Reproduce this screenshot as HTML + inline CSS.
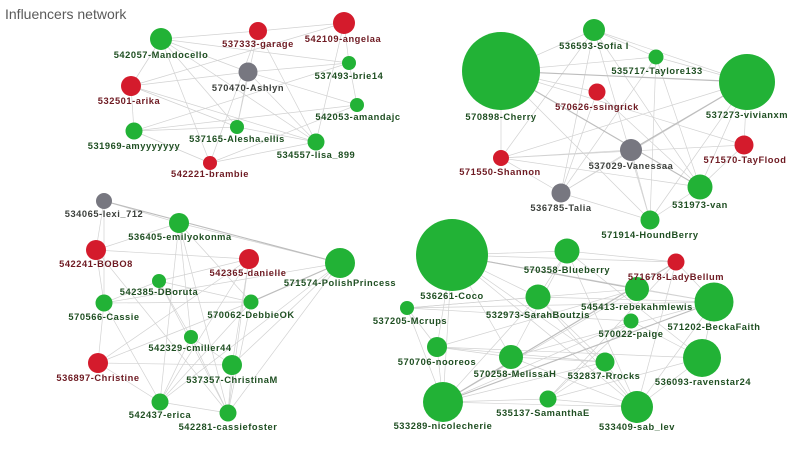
<!DOCTYPE html>
<html><head><meta charset="utf-8"><style>
html,body{margin:0;padding:0;background:#fff;}
svg{display:block;}
.e line{stroke:#d2d2d2;stroke-width:0.7;}
.t line{stroke:#bdbdbd;stroke-width:1.15;}
text.l{font-family:"Liberation Sans",sans-serif;font-size:9.3px;font-weight:bold;letter-spacing:0.55px;text-anchor:middle;dominant-baseline:central;}
.g{fill:#1f4f22;} .r{fill:#6e1a22;} .k{fill:#3c403c;}
.cg{fill:#22b236;} .cr{fill:#d41b2c;} .ck{fill:#777780;}
</style></head><body>
<svg width="800" height="464" viewBox="0 0 800 464" xmlns="http://www.w3.org/2000/svg">
<text x="5" y="19" style="font-family:'Liberation Sans',sans-serif;font-size:14px;fill:#5a5a5a;">Influencers network</text>

<!-- cluster 1 edges -->
<g class="e">
<line x1="161" y1="39" x2="258" y2="31"/><line x1="258" y1="31" x2="344" y2="23"/>
<line x1="161" y1="39" x2="248" y2="72"/><line x1="161" y1="39" x2="349" y2="63"/>
<line x1="161" y1="39" x2="210" y2="163"/><line x1="161" y1="39" x2="237" y2="127"/>
<line x1="161" y1="39" x2="316" y2="142"/><line x1="161" y1="39" x2="131" y2="86"/>
<line x1="131" y1="86" x2="248" y2="72"/><line x1="131" y1="86" x2="134" y2="131"/>
<line x1="131" y1="86" x2="316" y2="142"/><line x1="131" y1="86" x2="237" y2="127"/>
<line x1="131" y1="86" x2="344" y2="23"/><line x1="344" y1="23" x2="349" y2="63"/>
<line x1="349" y1="63" x2="357" y2="105"/><line x1="344" y1="23" x2="316" y2="142"/>
<line x1="248" y1="72" x2="237" y2="127"/><line x1="248" y1="72" x2="316" y2="142"/>
<line x1="248" y1="72" x2="357" y2="105"/><line x1="258" y1="31" x2="237" y2="127"/>
<line x1="258" y1="31" x2="210" y2="163"/><line x1="134" y1="131" x2="357" y2="105"/>
<line x1="134" y1="131" x2="210" y2="163"/><line x1="134" y1="131" x2="237" y2="127"/>
<line x1="210" y1="163" x2="357" y2="105"/><line x1="210" y1="163" x2="316" y2="142"/>
<line x1="237" y1="127" x2="316" y2="142"/><line x1="349" y1="63" x2="134" y2="131"/>
<line x1="248" y1="72" x2="349" y2="63"/><line x1="258" y1="31" x2="316" y2="142"/>
</g>

<!-- cluster 2 edges -->
<g class="e">
<line x1="501" y1="71" x2="594" y2="30"/><line x1="501" y1="71" x2="656" y2="57"/>
<line x1="594" y1="30" x2="656" y2="57"/><line x1="594" y1="30" x2="747" y2="82"/>
<line x1="656" y1="57" x2="747" y2="82"/><line x1="501" y1="71" x2="501" y2="158"/>
<line x1="501" y1="71" x2="597" y2="92"/><line x1="561" y1="193" x2="631" y2="150"/>
<line x1="561" y1="193" x2="501" y2="158"/><line x1="561" y1="193" x2="650" y2="220"/>
<line x1="650" y1="220" x2="700" y2="187"/><line x1="700" y1="187" x2="744" y2="145"/>
<line x1="744" y1="145" x2="747" y2="82"/><line x1="501" y1="158" x2="631" y2="150"/>
<line x1="501" y1="158" x2="700" y2="187"/><line x1="594" y1="30" x2="561" y2="193"/>
<line x1="594" y1="30" x2="650" y2="220"/><line x1="656" y1="57" x2="561" y2="193"/>
<line x1="747" y1="82" x2="501" y2="158"/><line x1="747" y1="82" x2="561" y2="193"/>
<line x1="597" y1="92" x2="700" y2="187"/><line x1="501" y1="71" x2="744" y2="145"/>
<line x1="594" y1="30" x2="700" y2="187"/><line x1="656" y1="57" x2="650" y2="220"/>
<line x1="597" y1="92" x2="561" y2="193"/><line x1="501" y1="158" x2="744" y2="145"/>
<line x1="650" y1="220" x2="747" y2="82"/><line x1="631" y1="150" x2="650" y2="220"/>
<line x1="501" y1="71" x2="650" y2="220"/><line x1="656" y1="57" x2="700" y2="187"/>
<line x1="594" y1="30" x2="501" y2="158"/><line x1="747" y1="82" x2="700" y2="187"/>
</g>
<g class="t">
<line x1="501" y1="71" x2="747" y2="82"/><line x1="501" y1="71" x2="700" y2="187"/>
<line x1="631" y1="150" x2="747" y2="82"/>
</g>

<!-- cluster 3 edges -->
<g class="e">
<line x1="104" y1="201" x2="96" y2="250"/><line x1="104" y1="201" x2="104" y2="303"/>
<line x1="179" y1="223" x2="340" y2="263"/><line x1="179" y1="223" x2="96" y2="250"/>
<line x1="179" y1="223" x2="191" y2="337"/><line x1="179" y1="223" x2="160" y2="402"/>
<line x1="179" y1="223" x2="228" y2="413"/><line x1="96" y1="250" x2="249" y2="259"/>
<line x1="96" y1="250" x2="104" y2="303"/><line x1="96" y1="250" x2="228" y2="413"/>
<line x1="249" y1="259" x2="159" y2="281"/><line x1="249" y1="259" x2="98" y2="363"/>
<line x1="249" y1="259" x2="160" y2="402"/><line x1="249" y1="259" x2="232" y2="365"/>
<line x1="340" y1="263" x2="104" y2="303"/><line x1="340" y1="263" x2="232" y2="365"/>
<line x1="340" y1="263" x2="228" y2="413"/><line x1="159" y1="281" x2="251" y2="302"/>
<line x1="159" y1="281" x2="104" y2="303"/><line x1="159" y1="281" x2="191" y2="337"/>
<line x1="159" y1="281" x2="228" y2="413"/><line x1="104" y1="303" x2="98" y2="363"/>
<line x1="104" y1="303" x2="251" y2="302"/><line x1="104" y1="303" x2="160" y2="402"/>
<line x1="251" y1="302" x2="98" y2="363"/><line x1="251" y1="302" x2="228" y2="413"/>
<line x1="251" y1="302" x2="160" y2="402"/><line x1="191" y1="337" x2="160" y2="402"/>
<line x1="191" y1="337" x2="232" y2="365"/><line x1="98" y1="363" x2="232" y2="365"/>
<line x1="98" y1="363" x2="160" y2="402"/><line x1="232" y1="365" x2="228" y2="413"/>
<line x1="160" y1="402" x2="228" y2="413"/><line x1="191" y1="337" x2="228" y2="413"/>
<line x1="179" y1="223" x2="251" y2="302"/><line x1="104" y1="201" x2="179" y2="223"/>
<line x1="340" y1="263" x2="160" y2="402"/><line x1="249" y1="259" x2="228" y2="413"/>
</g>
<g class="t">
<line x1="104" y1="201" x2="340" y2="263"/><line x1="340" y1="263" x2="251" y2="302"/>
</g>

<!-- cluster 4 edges -->
<g class="e">
<line x1="452" y1="255" x2="567" y2="251"/><line x1="452" y1="255" x2="676" y2="262"/>
<line x1="452" y1="255" x2="714" y2="302"/><line x1="452" y1="255" x2="443" y2="402"/>
<line x1="452" y1="255" x2="511" y2="357"/><line x1="452" y1="255" x2="437" y2="347"/>
<line x1="452" y1="255" x2="538" y2="297"/><line x1="452" y1="255" x2="605" y2="362"/>
<line x1="452" y1="255" x2="637" y2="407"/><line x1="567" y1="251" x2="676" y2="262"/>
<line x1="567" y1="251" x2="538" y2="297"/><line x1="567" y1="251" x2="637" y2="407"/>
<line x1="407" y1="308" x2="637" y2="289"/><line x1="407" y1="308" x2="714" y2="302"/>
<line x1="407" y1="308" x2="437" y2="347"/><line x1="407" y1="308" x2="538" y2="297"/>
<line x1="407" y1="308" x2="631" y2="321"/><line x1="538" y1="297" x2="605" y2="362"/>
<line x1="538" y1="297" x2="714" y2="302"/><line x1="538" y1="297" x2="443" y2="402"/>
<line x1="637" y1="289" x2="714" y2="302"/><line x1="637" y1="289" x2="443" y2="402"/>
<line x1="676" y1="262" x2="714" y2="302"/><line x1="714" y1="302" x2="511" y2="357"/>
<line x1="714" y1="302" x2="637" y2="407"/><line x1="714" y1="302" x2="702" y2="358"/>
<line x1="631" y1="321" x2="443" y2="402"/><line x1="631" y1="321" x2="702" y2="358"/>
<line x1="437" y1="347" x2="511" y2="357"/><line x1="437" y1="347" x2="605" y2="362"/>
<line x1="437" y1="347" x2="443" y2="402"/><line x1="437" y1="347" x2="702" y2="358"/>
<line x1="511" y1="357" x2="637" y2="407"/><line x1="511" y1="357" x2="605" y2="362"/>
<line x1="605" y1="362" x2="443" y2="402"/><line x1="605" y1="362" x2="548" y2="399"/>
<line x1="605" y1="362" x2="637" y2="407"/><line x1="702" y1="358" x2="637" y2="407"/>
<line x1="702" y1="358" x2="548" y2="399"/><line x1="443" y1="402" x2="548" y2="399"/>
<line x1="443" y1="402" x2="637" y2="407"/><line x1="548" y1="399" x2="637" y2="407"/>
<line x1="548" y1="399" x2="631" y2="321"/><line x1="538" y1="297" x2="637" y2="407"/>
<line x1="676" y1="262" x2="548" y2="399"/><line x1="567" y1="251" x2="511" y2="357"/>
<line x1="407" y1="308" x2="443" y2="402"/><line x1="676" y1="262" x2="637" y2="407"/>
<line x1="637" y1="289" x2="437" y2="347"/><line x1="567" y1="251" x2="702" y2="358"/>
</g>
<g class="t">
<line x1="452" y1="255" x2="637" y2="289"/><line x1="676" y1="262" x2="443" y2="402"/>
<line x1="714" y1="302" x2="443" y2="402"/>
</g>

<!-- nodes cluster 1 -->
<circle class="cg" cx="161" cy="39" r="11"/>
<circle class="cr" cx="258" cy="31" r="9"/>
<circle class="cr" cx="344" cy="23" r="11"/>
<circle class="cg" cx="349" cy="63" r="7"/>
<circle class="ck" cx="248" cy="72" r="9.5"/>
<circle class="cr" cx="131" cy="86" r="10"/>
<circle class="cg" cx="357" cy="105" r="7"/>
<circle class="cg" cx="134" cy="131" r="8.5"/>
<circle class="cg" cx="237" cy="127" r="7"/>
<circle class="cg" cx="316" cy="142" r="8.5"/>
<circle class="cr" cx="210" cy="163" r="7"/>
<!-- nodes cluster 2 -->
<circle class="cg" cx="594" cy="30" r="11"/>
<circle class="cg" cx="501" cy="71" r="39"/>
<circle class="cg" cx="656" cy="57" r="7.5"/>
<circle class="cg" cx="747" cy="82" r="28"/>
<circle class="cr" cx="597" cy="92" r="8.5"/>
<circle class="ck" cx="631" cy="150" r="11"/>
<circle class="cr" cx="501" cy="158" r="8"/>
<circle class="cr" cx="744" cy="145" r="9.5"/>
<circle class="ck" cx="561" cy="193" r="9.5"/>
<circle class="cg" cx="700" cy="187" r="12.5"/>
<circle class="cg" cx="650" cy="220" r="9.5"/>
<!-- nodes cluster 3 -->
<circle class="ck" cx="104" cy="201" r="8"/>
<circle class="cg" cx="179" cy="223" r="10"/>
<circle class="cr" cx="96" cy="250" r="10"/>
<circle class="cr" cx="249" cy="259" r="10"/>
<circle class="cg" cx="340" cy="263" r="15"/>
<circle class="cg" cx="159" cy="281" r="7"/>
<circle class="cg" cx="104" cy="303" r="8.5"/>
<circle class="cg" cx="251" cy="302" r="7.5"/>
<circle class="cg" cx="191" cy="337" r="7"/>
<circle class="cr" cx="98" cy="363" r="10"/>
<circle class="cg" cx="232" cy="365" r="10"/>
<circle class="cg" cx="160" cy="402" r="8.5"/>
<circle class="cg" cx="228" cy="413" r="8.5"/>
<!-- nodes cluster 4 -->
<circle class="cg" cx="452" cy="255" r="36"/>
<circle class="cg" cx="567" cy="251" r="12.5"/>
<circle class="cr" cx="676" cy="262" r="8.5"/>
<circle class="cg" cx="637" cy="289" r="12"/>
<circle class="cg" cx="714" cy="302" r="19.5"/>
<circle class="cg" cx="407" cy="308" r="7"/>
<circle class="cg" cx="538" cy="297" r="12.5"/>
<circle class="cg" cx="631" cy="321" r="7.5"/>
<circle class="cg" cx="437" cy="347" r="10"/>
<circle class="cg" cx="511" cy="357" r="12"/>
<circle class="cg" cx="605" cy="362" r="9.5"/>
<circle class="cg" cx="702" cy="358" r="19"/>
<circle class="cg" cx="443" cy="402" r="20"/>
<circle class="cg" cx="548" cy="399" r="8.5"/>
<circle class="cg" cx="637" cy="407" r="16"/>

<!-- labels cluster 1 -->
<text class="l g" x="161" y="55">542057-Mandocello</text>
<text class="l r" x="258" y="44">537333-garage</text>
<text class="l r" x="343" y="39">542109-angelaa</text>
<text class="l g" x="349" y="76">537493-brie14</text>
<text class="l k" x="248" y="88">570470-Ashlyn</text>
<text class="l r" x="129" y="101">532501-arika</text>
<text class="l g" x="358" y="117">542053-amandajc</text>
<text class="l g" x="134" y="146">531969-amyyyyyyy</text>
<text class="l g" x="237" y="139">537165-Alesha.ellis</text>
<text class="l g" x="316" y="155">534557-lisa_899</text>
<text class="l r" x="210" y="174">542221-brambie</text>
<!-- labels cluster 2 -->
<text class="l g" x="594" y="46">536593-Sofia I</text>
<text class="l g" x="501" y="117">570898-Cherry</text>
<text class="l g" x="657" y="71">535717-Taylore133</text>
<text class="l g" x="747" y="115">537273-vivianxm</text>
<text class="l r" x="597" y="107">570626-ssingrick</text>
<text class="l k" x="631" y="166">537029-Vanessaa</text>
<text class="l r" x="500" y="172">571550-Shannon</text>
<text class="l r" x="745" y="160">571570-TayFlood</text>
<text class="l k" x="561" y="208">536785-Talia</text>
<text class="l g" x="700" y="205">531973-van</text>
<text class="l g" x="650" y="235">571914-HoundBerry</text>
<!-- labels cluster 3 -->
<text class="l k" x="104" y="214">534065-lexi_712</text>
<text class="l g" x="180" y="237">536405-emilyokonma</text>
<text class="l r" x="96" y="264">542241-BOBO8</text>
<text class="l r" x="248" y="273">542365-danielle</text>
<text class="l g" x="340" y="283">571574-PolishPrincess</text>
<text class="l g" x="159" y="292">542385-DBoruta</text>
<text class="l g" x="104" y="317">570566-Cassie</text>
<text class="l g" x="251" y="315">570062-DebbieOK</text>
<text class="l g" x="190" y="348">542329-cmiller44</text>
<text class="l r" x="98" y="378">536897-Christine</text>
<text class="l g" x="232" y="380">537357-ChristinaM</text>
<text class="l g" x="160" y="415">542437-erica</text>
<text class="l g" x="228" y="427">542281-cassiefoster</text>
<!-- labels cluster 4 -->
<text class="l g" x="452" y="296">536261-Coco</text>
<text class="l g" x="567" y="270">570358-Blueberry</text>
<text class="l r" x="676" y="277">571678-LadyBellum</text>
<text class="l g" x="637" y="307">545413-rebekahmlewis</text>
<text class="l g" x="714" y="327">571202-BeckaFaith</text>
<text class="l g" x="410" y="321">537205-Mcrups</text>
<text class="l g" x="538" y="315">532973-SarahBoutzis</text>
<text class="l g" x="631" y="334">570022-paige</text>
<text class="l g" x="437" y="362">570706-nooreos</text>
<text class="l g" x="515" y="374">570258-MelissaH</text>
<text class="l g" x="604" y="376">532837-Rrocks</text>
<text class="l g" x="703" y="382">536093-ravenstar24</text>
<text class="l g" x="443" y="426">533289-nicolecherie</text>
<text class="l g" x="543" y="413">535137-SamanthaE</text>
<text class="l g" x="637" y="427">533409-sab_lev</text>
</svg>
</body></html>
